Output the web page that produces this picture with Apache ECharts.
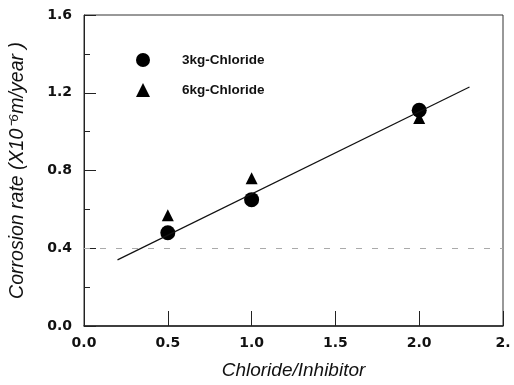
<!DOCTYPE html>
<html>
<head>
<meta charset="utf-8">
<script src="https://cdn.jsdelivr.net/npm/echarts@6/dist/echarts.min.js"></script>
<style>
  html, body { margin: 0; padding: 0; background: #fff; }
  #main { width: 514px; height: 385px; }
</style>
</head>
<body>
<div id="main"></div>
<script>
// values
var ratio = [0.5, 1.0, 2.0];
var rate3kg = [0.48, 0.65, 1.11];
var rate6kg = [0.57, 0.76, 1.07];
var fitLine = [[0.2, 0.34], [2.3, 1.23]];
var xTickLabels = ['0.0', '0.5', '1.0', '1.5', '2.0', '2.'];
var yTickLabels = ['0.0', '0.4', '0.8', '1.2', '1.6'];

var chart = echarts.init(document.getElementById('main'));

function pairs(xs, ys) {
    var out = [];
    for (var i = 0; i < xs.length; i++) out.push([xs[i], ys[i]]);
    return out;
}

var tickFont = { color: '#111', fontFamily: 'DejaVu Sans', fontWeight: 'bold', fontSize: 14 };
var nameFont = { color: '#111', fontFamily: 'Liberation Sans', fontStyle: 'italic', fontSize: 19 };

var option = {
    animation: false,
    backgroundColor: '#fff',
    grid: { left: 82, right: 11, top: 15, bottom: 51, show: true, borderColor: '#333', borderWidth: 1 },
    legend: {
        orient: 'vertical',
        left: 131,
        top: 48,
        itemGap: 16,
        itemWidth: 14,
        itemHeight: 14,
        data: [
            { name: '3kg-Chloride', itemStyle: { opacity: 1 } },
            { name: '6kg-Chloride', icon: 'triangle', itemStyle: { opacity: 1 } }
        ],
        textStyle: { color: '#111', fontFamily: 'Liberation Sans', fontWeight: 'bold', fontSize: 13.5, padding: [0, 0, 0, 27] }
    },
    xAxis: {
        type: 'value',
        min: 0, max: 2.5, interval: 0.5,
        name: 'Chloride/Inhibitor',
        nameLocation: 'middle',
        nameGap: 35,
        nameTextStyle: nameFont,
        axisLine: { lineStyle: { color: '#222', width: 1.5 } },
        axisTick: { inside: true, length: 15, lineStyle: { color: '#222' } },
        axisLabel: Object.assign({ margin: 10, formatter: function (v) { return xTickLabels[Math.round(v / 0.5)]; } }, tickFont),
        splitLine: { show: false }
    },
    yAxis: {
        type: 'value',
        min: 0, max: 1.6, interval: 0.4,
        name: 'Corrosion rate (X10\u207B\u2076m/year )',
        nameLocation: 'middle',
        nameGap: 56,
        nameTextStyle: Object.assign({}, nameFont, { fontSize: 19.5 }),
        axisLine: { lineStyle: { color: '#222', width: 1 } },
        axisTick: { inside: true, length: 12, lineStyle: { color: '#222' } },
        minorTick: { show: true, splitNumber: 2, length: 6, lineStyle: { color: '#222' } },
        axisLabel: Object.assign({ margin: 12, formatter: function (v) { return yTickLabels[Math.round(v / 0.4)]; } }, tickFont),
        splitLine: { show: false }
    },
    series: [
        {
            name: 'fit',
            type: 'line',
            data: fitLine,
            symbol: 'none',
            lineStyle: { color: '#111', width: 1.2 },
            markLine: {
                silent: true,
                symbol: 'none',
                label: { show: false },
                lineStyle: { color: '#aaa', type: [6, 10], width: 1 },
                data: [{ yAxis: 0.4 }]
            }
        },
        {
            name: '6kg-Chloride',
            type: 'scatter',
            symbol: 'triangle',
            symbolSize: 12,
            data: pairs(ratio, rate6kg),
            itemStyle: { color: '#000', opacity: 1 }
        },
        {
            name: '3kg-Chloride',
            type: 'scatter',
            symbol: 'circle',
            symbolSize: 15,
            data: pairs(ratio, rate3kg),
            itemStyle: { color: '#000', opacity: 1 }
        }
    ]
};

chart.setOption(option);
</script>
</body>
</html>
